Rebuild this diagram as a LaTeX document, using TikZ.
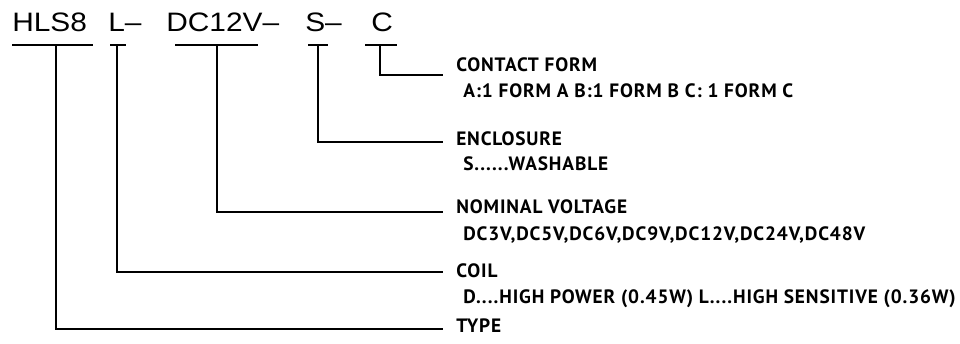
\documentclass[tikz,border=0pt]{standalone}
\usepackage{fontspec}
\newfontfamily\codefont[FakeStretch=1.12]{Liberation Sans}
\newfontfamily\descfont[LetterSpace=4.5]{PT Sans}
\begin{document}
\begin{tikzpicture}[x=0.75pt,y=-0.75pt,
  code/.style={anchor=base west,inner sep=0pt,font=\codefont\fontsize{20}{24}\selectfont},
  head/.style={anchor=base west,inner sep=0pt,font=\descfont\bfseries\fontsize{14.5}{17}\selectfont},
  lead/.style={line width=1.5pt},
  uline/.style={line width=1.3pt}]
\useasboundingbox (0,0) rectangle (960,343);
% code segments
\node[code] (hls)  at (12,31)  {HLS8};
\node[code] (coil) at (108,31) {L–};
\node[code] (volt) at (166,31) {DC12V–};
\node[code] (encl) at (305,31) {S–};
\node[code] (cont) at (371,31) {C};
% underlines
\draw[uline] (12,45) -- (93,45);
\draw[uline] (110,45) -- (126,45);
\draw[uline] (175,45) -- (258,45);
\draw[uline] (308,45) -- (328,45);
\draw[uline] (365,45) -- (397,45);
% taps and ends
\coordinate (tH) at (56,45);
\coordinate (tL) at (117,45);
\coordinate (tD) at (217,45);
\coordinate (tS) at (318,45);
\coordinate (tC) at (380,45);
\coordinate (eC) at (443,75);
\coordinate (eS) at (443,142);
\coordinate (eD) at (443,212);
\coordinate (eL) at (443,272);
\coordinate (eH) at (443,329);
\draw[lead] (tC) |- (eC);
\draw[lead] (tS) |- (eS);
\draw[lead] (tD) |- (eD);
\draw[lead] (tL) |- (eL);
\draw[lead] (tH) |- (eH);
% labels
\node[head] (lC) at (456,71)  {CONTACT FORM};
\node[head] (dC) at (463,97)  {A:1 FORM A B:1 FORM B C: 1 FORM C};
\node[head] (lS) at (456,145) {ENCLOSURE};
\node[head] (dS) at (463,170) {S......WASHABLE};
\node[head] (lD) at (456,213) {NOMINAL VOLTAGE};
\node[head] (dD) at (463,240) {DC3V,DC5V,DC6V,DC9V,DC12V,DC24V,DC48V};
\node[head] (lL) at (456,277) {COIL};
\node[head] (dL) at (463,303) {D....HIGH POWER (0.45W) L....HIGH SENSITIVE (0.36W)};
\node[head] (lH) at (456,332) {TYPE};
\end{tikzpicture}
\end{document}
